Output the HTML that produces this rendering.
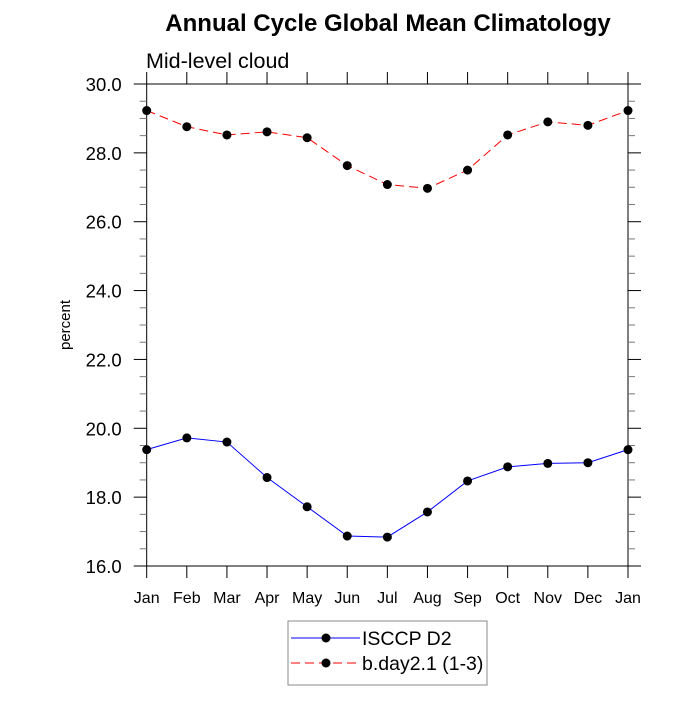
<!DOCTYPE html>
<html><head><meta charset="utf-8"><style>
html,body{margin:0;padding:0;background:#fff;}
svg text{font-family:"Liberation Sans",sans-serif;}
</style></head><body>
<svg id="chart" width="700" height="700" xmlns="http://www.w3.org/2000/svg">
<text x="388" y="31" text-anchor="middle" font-size="24" font-weight="bold">Annual Cycle Global Mean Climatology</text>
<text x="146" y="68" font-size="21.5">Mid-level cloud</text>
<text transform="translate(70,325) rotate(-90)" text-anchor="middle" font-size="15">percent</text>
<g id="axes"></g>
<g id="series"></g>
<g>
<rect x="288" y="621" width="199" height="64" fill="#fff" stroke="#888" stroke-width="1"/>
<line x1="291" y1="638" x2="360" y2="638" stroke="#0000ff" stroke-width="1"/>
<circle cx="326" cy="638" r="4.5" fill="#000"/>
<text x="362" y="645" font-size="19.5">ISCCP D2</text>
<line x1="291" y1="663" x2="360" y2="663" stroke="#ff0000" stroke-width="1" stroke-dasharray="9,5"/>
<circle cx="326" cy="663" r="4.5" fill="#000"/>
<text x="362" y="670" font-size="19.5">b.day2.1 (1-3)</text>
</g>
</svg>
<script>
const months = ["Jan","Feb","Mar","Apr","May","Jun","Jul","Aug","Sep","Oct","Nov","Dec","Jan"];
const isccp = [19.38,19.72,19.60,18.57,17.72,16.87,16.84,17.57,18.47,18.88,18.98,19.00,19.38];
const bday = [29.23,28.76,28.52,28.61,28.44,27.63,27.08,26.97,27.50,28.52,28.90,28.80,29.23];
const yTicks = [16,18,20,22,24,26,28,30];
const yTickLabels = ["16.0","18.0","20.0","22.0","24.0","26.0","28.0","30.0"];
const L=146.7,R=628,T=84,B=566,yMin=16,yMax=30;
const NS="http://www.w3.org/2000/svg";
function X(i){return L+(R-L)*i/(months.length-1);}
function Y(v){return B-(v-yMin)/(yMax-yMin)*(B-T);}
function mk(tag,attrs,parent){const e=document.createElementNS(NS,tag);for(const k in attrs)e.setAttribute(k,attrs[k]);parent.appendChild(e);return e;}
const ax=document.getElementById('axes');
const fr=mk('rect',{x:L,y:T,width:R-L,height:B-T,fill:'none',stroke:'#000','stroke-width':1},ax);


months.forEach((m,i)=>{
  const x=X(i);
  mk('line',{x1:x,y1:B,x2:x,y2:B+12,stroke:'#000'},ax);
  mk('line',{x1:x,y1:T,x2:x,y2:T-12,stroke:'#000'},ax);
  const t=mk('text',{x:x,y:B+37,'text-anchor':'middle','font-size':16},ax);
  t.textContent=m;
  
  
});
for(let v=yMin;v<=yMax+1e-9;v+=0.5){
  const y=Y(v);const major=Math.abs(v-Math.round(v/2)*2)<1e-6;
  const len=major?13:7,col=major?'#000':'#777';
  mk('line',{x1:L,y1:y,x2:L-len,y2:y,stroke:col},ax);
  mk('line',{x1:R,y1:y,x2:R+len,y2:y,stroke:col},ax);
}
yTicks.forEach((v,i)=>{
  const t=mk('text',{x:L-25,y:Y(v)+7,'text-anchor':'end','font-size':18.5},ax);
  t.textContent=yTickLabels[i];
  
  
});
const sg=document.getElementById('series');
function draw(vals,color,dash,name){
  const p=mk('polyline',{points:vals.map((v,i)=>X(i)+','+Y(v)).join(' '),fill:'none',stroke:color,'stroke-width':1},sg);
  if(dash)p.setAttribute('stroke-dasharray',dash);
  
  
  vals.forEach((v,i)=>{
    const c=mk('circle',{cx:X(i),cy:Y(v),r:4.5,fill:'#000'},sg);
    
    
  });
}
draw(isccp,'#0000ff',null,'isccp');
draw(bday,'#ff0000','9,5','bday');
</script>
</body></html>
